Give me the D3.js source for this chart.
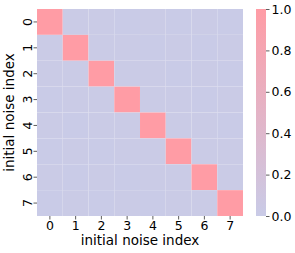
<!DOCTYPE html>
<html>
<head>
<meta charset="utf-8">
<script src="https://cdn.jsdelivr.net/npm/d3@7"></script>
<style>
  body { margin: 0; background: #fff; }
  text { font-family: "DejaVu Sans", sans-serif; fill: #000; }
</style>
</head>
<body>
<svg id="chart" width="295" height="253"></svg>
<script>
const indices = [0, 1, 2, 3, 4, 5, 6, 7];
// similarity matrix: 1 on the diagonal, ~0 elsewhere
const matrix = [
  [1.00, 0.01, 0.01, 0.00, 0.01, 0.00, 0.01, 0.00],
  [0.01, 1.00, 0.01, 0.01, 0.00, 0.01, 0.00, 0.01],
  [0.01, 0.01, 1.00, 0.01, 0.01, 0.00, 0.01, 0.00],
  [0.00, 0.01, 0.01, 1.00, 0.01, 0.01, 0.00, 0.01],
  [0.01, 0.00, 0.01, 0.01, 1.00, 0.01, 0.01, 0.00],
  [0.00, 0.01, 0.00, 0.01, 0.01, 1.00, 0.01, 0.01],
  [0.01, 0.00, 0.01, 0.00, 0.01, 0.01, 1.00, 0.01],
  [0.00, 0.01, 0.00, 0.01, 0.00, 0.01, 0.01, 1.00]
];
const colorTicks = [0.0, 0.2, 0.4, 0.6, 0.8, 1.0];

const svg = d3.select("svg#chart");
const plot = { left: 37, top: 9, width: 206, height: 207 };

const x = d3.scaleBand().domain(indices).range([plot.left, plot.left + plot.width]);
const y = d3.scaleBand().domain(indices).range([plot.top, plot.top + plot.height]);
const color = d3.scaleLinear().domain([0, 1]).range(["#c9cbe7", "#ff9ca5"]);

const cells = [];
matrix.forEach((row, i) => row.forEach((v, j) => cells.push({ row: i, col: j, v: v })));

svg.append("g").selectAll("rect")
  .data(cells)
  .enter()
  .append("rect")
  .attr("x", d => x(d.col))
  .attr("y", d => y(d.row))
  .attr("width", x.bandwidth())
  .attr("height", y.bandwidth())
  .attr("fill", d => color(d.v))
  .attr("stroke", "#ffffff")
  .attr("stroke-opacity", 0.07)
  .attr("stroke-width", 0.5);

// axes
const xAxis = svg.append("g")
  .attr("transform", translate(0, plot.top + plot.height))
  .call(d3.axisBottom(x).tickSize(3.5).tickPadding(2));
const yAxis = svg.append("g")
  .attr("transform", translate(plot.left, 0))
  .call(d3.axisLeft(y).tickSize(3.5).tickPadding(2));

[xAxis, yAxis].forEach(a => {
  a.select(".domain").remove();
  a.selectAll(".tick line").attr("stroke", "#333").attr("stroke-width", 0.8);
  a.selectAll("text").style("font-size", "12.5px").attr("font-family", null);
});

yAxis.selectAll(".tick text")
  .attr("text-anchor", "middle")
  .attr("dy", null)
  .attr("x", null)
  .attr("transform", "translate(-10,0) rotate(-90)")
  .attr("dominant-baseline", "central");

svg.append("text")
  .attr("x", plot.left + plot.width / 2)
  .attr("y", 245)
  .attr("text-anchor", "middle")
  .style("font-size", "13.5px")
  .text("initial noise index");

svg.append("text")
  .attr("transform", translate(14, plot.top + plot.height / 2) + " rotate(-90)")
  .attr("text-anchor", "middle")
  .style("font-size", "13.5px")
  .text("initial noise index");

// colorbar
const cb = { left: 256, width: 10 };
const cy = d3.scaleLinear().domain([0, 1]).range([plot.top + plot.height, plot.top]);

const grad = svg.append("defs").append("linearGradient")
  .attr("id", "cbar").attr("x1", 0).attr("y1", 1).attr("x2", 0).attr("y2", 0);
grad.append("stop").attr("offset", "0%").attr("stop-color", color(0));
grad.append("stop").attr("offset", "100%").attr("stop-color", color(1));

svg.append("rect")
  .attr("x", cb.left)
  .attr("y", cy(1))
  .attr("width", cb.width)
  .attr("height", cy(0) - cy(1))
  .attr("fill", "url(#cbar)");

const cAxis = svg.append("g")
  .attr("transform", translate(cb.left + cb.width, 0))
  .call(d3.axisRight(cy).tickValues(colorTicks).tickFormat(d3.format(".1f")).tickSize(3.5).tickPadding(2));
cAxis.select(".domain").remove();
cAxis.selectAll(".tick line").attr("stroke", "#333").attr("stroke-width", 0.8);
cAxis.selectAll("text").style("font-size", "12.5px").attr("font-family", null);

function translate(x, y) {
  return "translate(" + String(x) + "," + String(y) + ")";
}
</script>
</body>
</html>
